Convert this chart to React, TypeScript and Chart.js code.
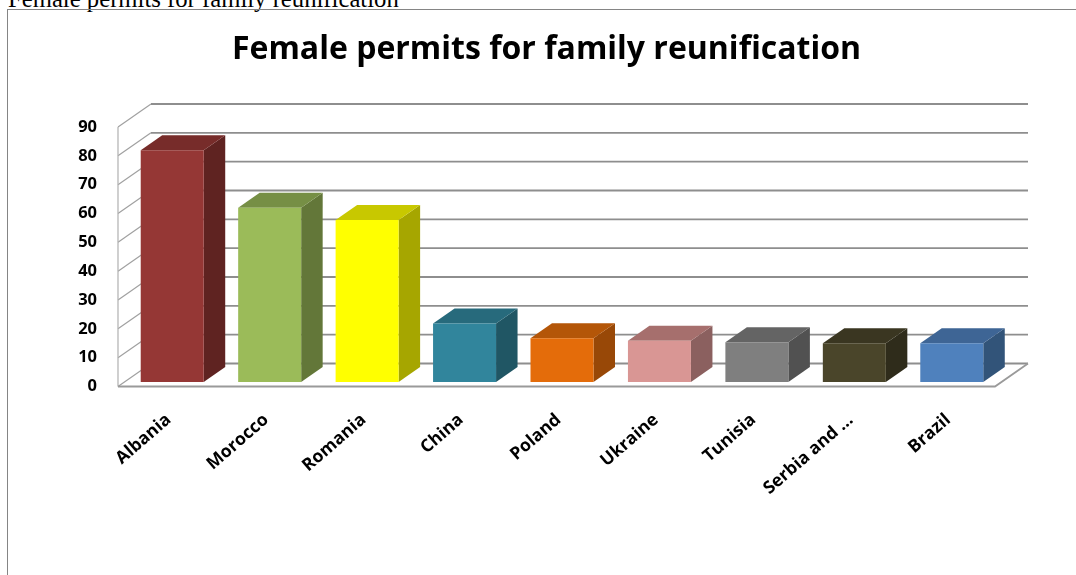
import React, { useEffect, useRef } from "react";
import { Chart, registerables } from "chart.js";

Chart.register(...registerables);

const captionText = "Female permits for family reunification";
const titleText = "Female permits for family reunification";
const categories = ["Albania", "Morocco", "Romania", "China", "Poland", "Ukraine", "Tunisia", "Serbia and ...", "Brazil"];
const values = [80.4, 60.4, 56.2, 20.3, 15.2, 14.3, 13.8, 13.4, 13.4];
const frontColors = ["#953735", "#9bbb59", "#ffff00", "#31859c", "#e46c0a", "#d99694", "#7f7f7f", "#4a452a", "#4f81bd"];
const topColors = ["#772c2a", "#768f45", "#c8c800", "#276a7c", "#b45608", "#a66f6d", "#646464", "#3a3621", "#3e6595"];
const sideColors = ["#5f2321", "#637739", "#a6a600", "#205664", "#984807", "#8b605f", "#515151", "#2f2c1b", "#325479"];
const yTicks = [0, 10, 20, 30, 40, 50, 60, 70, 80, 90];

// 3D projection offsets (pixels)
const wallDx = 33;
const wallDy = -23;
const barDx = 5.5;
const barDy = -4.5;
const barDepthX = 21.5;
const barDepthY = -15;

const threeD = {
  id: "threeD",
  beforeDatasetsDraw(chart: any) {
    const { ctx, chartArea: a, scales } = chart;
    const y = scales.y;
    ctx.save();
    // back wall and left wall grid
    yTicks.forEach((v) => {
      const py = y.getPixelForValue(v);
      ctx.lineWidth = 1.2;
      ctx.strokeStyle = "#a0a0a0";
      ctx.beginPath();
      ctx.moveTo(a.left, py);
      ctx.lineTo(a.left + wallDx, py + wallDy);
      ctx.stroke();
      ctx.lineWidth = 1.8;
      ctx.strokeStyle = "#8e8e8e";
      ctx.beginPath();
      ctx.moveTo(a.left + wallDx, py + wallDy);
      ctx.lineTo(a.right + wallDx, py + wallDy);
      ctx.stroke();
    });
    // left front edge
    ctx.lineWidth = 1.2;
    ctx.strokeStyle = "#b0b0b0";
    ctx.beginPath();
    ctx.moveTo(a.left, y.getPixelForValue(90));
    ctx.lineTo(a.left, y.getPixelForValue(0));
    ctx.stroke();
    // floor
    const p0 = y.getPixelForValue(0);
    ctx.lineWidth = 1.8;
    ctx.strokeStyle = "#9a9a9a";
    ctx.beginPath();
    ctx.moveTo(a.left, p0);
    ctx.lineTo(a.right, p0);
    ctx.lineTo(a.right + wallDx, p0 + wallDy);
    ctx.stroke();
    ctx.restore();

    // bar sides, in the same translated frame as the fronts
    ctx.save();
    ctx.translate(barDx, barDy);
    const meta = chart.getDatasetMeta(0);
    meta.data.forEach((bar: any, i: number) => {
      const l = bar.x - bar.width / 2;
      const r = bar.x + bar.width / 2;
      const t = bar.y;
      const b = bar.base;
      ctx.fillStyle = sideColors[i];
      ctx.beginPath();
      ctx.moveTo(r, t);
      ctx.lineTo(r + barDepthX, t + barDepthY);
      ctx.lineTo(r + barDepthX, b + barDepthY);
      ctx.lineTo(r, b);
      ctx.closePath();
      ctx.fill();
      ctx.fillStyle = topColors[i];
      ctx.beginPath();
      ctx.moveTo(l, t);
      ctx.lineTo(l + barDepthX, t + barDepthY);
      ctx.lineTo(r + barDepthX, t + barDepthY);
      ctx.lineTo(r, t);
      ctx.closePath();
      ctx.fill();
    });
    // left open for the library's own bar fronts; restored afterwards
  },
  afterDatasetsDraw(chart: any) {
    chart.ctx.restore();
  },
};

export default function App() {
  const ref = useRef<HTMLCanvasElement>(null);
  useEffect(() => {
    const chart = new Chart(ref.current as HTMLCanvasElement, {
      type: "bar",
      data: {
        labels: categories,
        datasets: [
          {
            data: values,
            backgroundColor: frontColors,
            borderWidth: 0,
            barPercentage: 0.6465,
            categoryPercentage: 1,
          },
        ],
      },
      plugins: [threeD],
      options: {
        animation: false,
        responsive: false,
        layout: { padding: { left: 17, right: 0, top: 0, bottom: 0 } },
        plugins: {
          legend: { display: false },
          tooltip: { enabled: false },
          title: {
            display: true,
            text: titleText,
            color: "#000000",
            font: { family: "'Open Sans'", size: 32, weight: "bold" },
            padding: { top: 31, bottom: 57.6 },
          },
        },
        scales: {
          x: {
            grid: { display: false },
            border: { display: false },
            ticks: {
              autoSkip: false,
              minRotation: 41,
              maxRotation: 41,
              padding: 15,
              labelOffset: 2,
              color: "#000000",
              font: { family: "'Open Sans'", size: 17.5, weight: "bold" },
            },
            afterFit(s: any) {
              s.height = 188.5;
            },
          },
          y: {
            min: 0,
            max: 90,
            grid: { display: false },
            border: { display: false },
            afterBuildTicks(s: any) {
              s.ticks = yTicks.map((value) => ({ value }));
            },
            ticks: {
              padding: 13,
              color: "#000000",
              font: { family: "'Open Sans'", size: 16.5, weight: "bold" },
            },
            afterFit(s: any) {
              s.width = 101;
            },
          },
          y2: {
            position: "right",
            display: true,
            grid: { display: false },
            border: { display: false },
            ticks: { display: false },
            afterFit(s: any) {
              s.width = 81;
            },
          },
        },
      } as any,
    });
    return () => chart.destroy();
  }, []);

  return (
    <div style={{ position: "fixed", inset: 0, background: "#fff", overflow: "hidden" }}>
      <div
        style={{
          position: "absolute",
          left: 8,
          top: -15,
          font: "24.7px 'Liberation Serif', serif",
          whiteSpace: "nowrap",
          color: "#000",
        }}
      >
        {captionText}
      </div>
      <div
        style={{
          position: "absolute",
          left: 7,
          top: 9,
          width: 1080,
          height: 600,
          borderTop: "1.5px solid #858585",
          borderLeft: "1.5px solid #858585",
        }}
      />
      <canvas
        ref={ref}
        width={1076}
        height={575}
        style={{ position: "absolute", left: 0, top: 0, width: 1076, height: 575, filter: "blur(0.45px)" }}
      />
    </div>
  );
}
